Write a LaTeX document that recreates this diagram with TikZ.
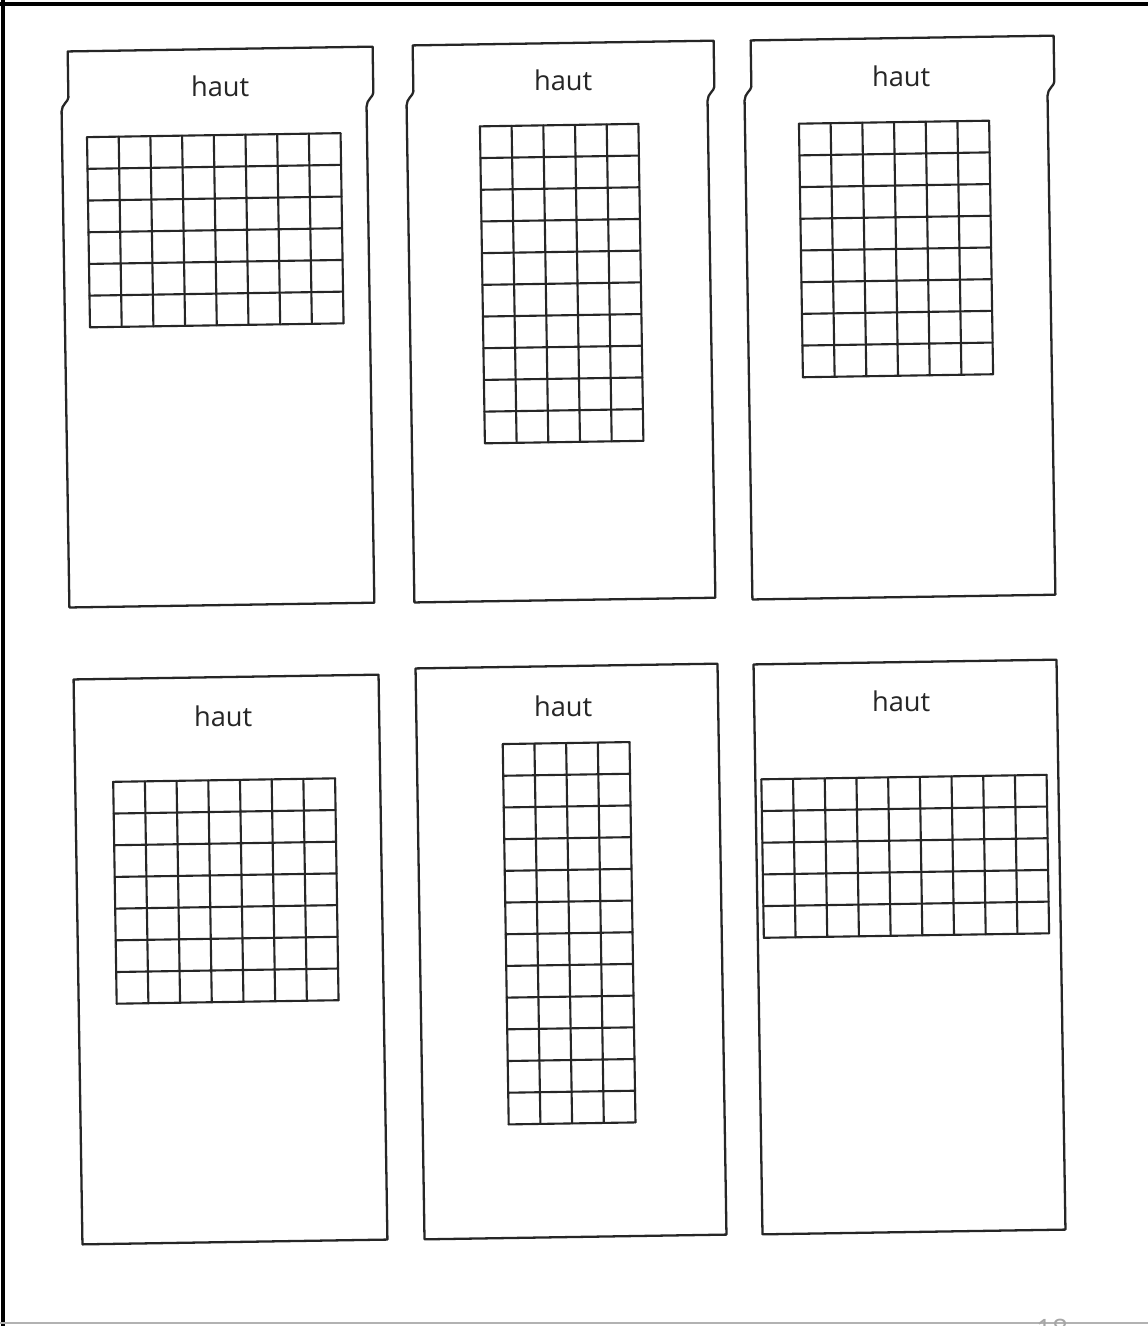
\documentclass[tikz,border=0pt]{standalone}
\usepackage{fontspec}
\setmainfont{Open Sans}

\begin{document}
\begin{tikzpicture}[
  x=0.02cm, y=-0.02cm,
  carte/.style={line width=1.3pt, draw=black!85, line join=round},
  case/.style={line width=1.2pt, draw=black!85, line cap=round},
  bord/.style={line width=2.4pt},
  etiquette/.style={font=\fontsize{15.5}{18}\selectfont, text=black!85, inner sep=0pt}
]
  \useasboundingbox (0,0) rectangle (1148,1326);
  \clip (0,0) rectangle (1148,1326);
  \fill[white] (0,0) rectangle (1148,1326);

  % edges of the scanned page
  \draw[bord] (3,0) -- (3,1326);
  \draw[bord] (0,4) -- (1148,4);
  \draw[gray!60, line width=0.8pt] (0,1323) -- (1148,1323);
  \node[gray!70, anchor=base, font=\fontsize{16}{18}\selectfont] (page) at (1052,1339) {18};

  % top row: cards with a tab
  \foreach \n/\l/\r/\t/\b/\hx/\hy/\gx/\gy/\nc/\nr in
    {1/72/377/49/605/224/86/90/135/8/6,
     2/417/718/43/600/567/80/483/125/5/10,
     3/755/1058/38/597/905/76/802/122/6/8}{
    \begin{scope}[rotate around={0.9:({(\l+\r)/2},{(\t+\b)/2})}]
      \draw[carte] (\l,\t) -- (\r,\t) -- (\r,\t+46)
        .. controls (\r,\t+50) and (\r-7,\t+53) .. (\r-7,\t+60)
        -- (\r-7,\b) -- (\l-7,\b) -- (\l-7,\t+60)
        .. controls (\l-7,\t+53) and (\l,\t+50) .. (\l,\t+46) -- cycle;
      \node[etiquette] (haut\n) at (\hx,\hy) {haut};
      \foreach \i in {0,...,\nc}
        \draw[case] (\gx+\i*31.7,\gy) -- (\gx+\i*31.7,\gy+\nr*31.7);
      \foreach \j in {0,...,\nr}
        \draw[case] (\gx,\gy+\j*31.7) -- (\gx+\nc*31.7,\gy+\j*31.7);
    \end{scope}
  }

  % bottom row: plain cards
  \foreach \n/\l/\r/\t/\b/\hx/\hy/\gx/\gy/\nc/\nr in
    {4/78/383/677/1242/227/716/116/780/7/7,
     5/420/722/666/1237/567/706/506/743/4/12,
     6/758/1061/662/1232/905/701/764/777/9/5}{
    \begin{scope}[rotate around={0.9:({(\l+\r)/2},{(\t+\b)/2})}]
      \draw[carte] (\l,\t) rectangle (\r,\b);
      \node[etiquette] (haut\n) at (\hx,\hy) {haut};
      \foreach \i in {0,...,\nc}
        \draw[case] (\gx+\i*31.7,\gy) -- (\gx+\i*31.7,\gy+\nr*31.7);
      \foreach \j in {0,...,\nr}
        \draw[case] (\gx,\gy+\j*31.7) -- (\gx+\nc*31.7,\gy+\j*31.7);
    \end{scope}
  }
\end{tikzpicture}
\end{document}
